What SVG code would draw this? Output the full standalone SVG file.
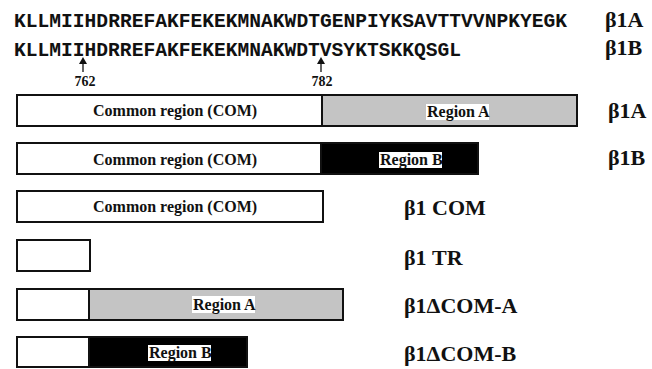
<svg xmlns="http://www.w3.org/2000/svg" width="652" height="369" viewBox="0 0 652 369">
<style>
.seq{font-family:"Liberation Mono","Courier New",monospace;font-weight:bold;font-size:19.6px;fill:#111}
.lbl{font-family:"Liberation Serif","Times New Roman",serif;font-weight:bold;font-size:22px;fill:#111}
.in{font-family:"Liberation Serif","Times New Roman",serif;font-weight:bold;font-size:16px;fill:#111}
.num{font-family:"Liberation Serif","Times New Roman",serif;font-weight:bold;font-size:14px;fill:#111;text-anchor:middle}
.box{stroke:#111;stroke-width:2}
.w{fill:#fff}
.g{fill:#c4c4c4}
.b{fill:#000}
.tb{fill:#fff}
</style>
<rect width="652" height="369" fill="#fff"/>
<g id="sequences">
<text class="seq" x="14" y="27" textLength="553" lengthAdjust="spacing">KLLMIIHDRREFAKFEKEKMNAKWDTGENPIYKSAVTTVVNPKYEGK</text>
<text class="seq" x="14" y="56" textLength="447" lengthAdjust="spacing">KLLMIIHDRREFAKFEKEKMNAKWDTVSYKTSKKQSGL</text>
<text class="lbl" x="605" y="27">β1A</text>
<text class="lbl" x="605" y="55">β1B</text>
</g>
<g id="connectors">
<line x1="83" y1="72" x2="83" y2="64" stroke="#111" stroke-width="1.3"/>
<path d="M79,64 L83,57 L87,64 Z" fill="#111"/>
<line x1="321" y1="72" x2="321" y2="64" stroke="#111" stroke-width="1.3"/>
<path d="M317,64 L321,57 L325,64 Z" fill="#111"/>
<text class="num" x="85" y="86">762</text>
<text class="num" x="322" y="86">782</text>
</g>
<g id="beta1A">
<rect class="box w" x="17" y="95" width="305" height="31"/>
<rect class="box g" x="322" y="95" width="255" height="31"/>
<text class="in" x="93" y="116">Common region (COM)</text>
<rect class="tb" x="426" y="104" width="63" height="16"/>
<text class="in" x="427" y="117">Region A</text>
<text class="lbl" x="608" y="118">β1A</text>
</g>
<g id="beta1B">
<rect class="box w" x="17" y="143" width="304" height="31"/>
<rect class="box b" x="321" y="143" width="157" height="31"/>
<text class="in" x="93" y="165">Common region (COM)</text>
<rect class="tb" x="379" y="152" width="63" height="16"/>
<text class="in" x="380" y="165">Region B</text>
<text class="lbl" x="608" y="165">β1B</text>
</g>
<g id="beta1COM">
<rect class="box w" x="17" y="191" width="306" height="31"/>
<text class="in" x="93" y="212">Common region (COM)</text>
<text class="lbl" x="404" y="215">β1 COM</text>
</g>
<g id="beta1TR">
<rect class="box w" x="17" y="240" width="73" height="31"/>
<text class="lbl" x="404" y="265">β1 TR</text>
</g>
<g id="beta1dCOMA">
<rect class="box w" x="17" y="289" width="72" height="31"/>
<rect class="box g" x="89" y="289" width="254" height="31"/>
<rect class="tb" x="192" y="296" width="63" height="17"/>
<text class="in" x="193" y="310">Region A</text>
<text class="lbl" x="404" y="313">β1ΔCOM-A</text>
</g>
<g id="beta1dCOMB">
<rect class="box w" x="17" y="337" width="72" height="30"/>
<rect class="box b" x="89" y="337" width="158" height="30"/>
<rect class="tb" x="148" y="345" width="63" height="16"/>
<text class="in" x="149" y="358">Region B</text>
<text class="lbl" x="404" y="361">β1ΔCOM-B</text>
</g>
</svg>
